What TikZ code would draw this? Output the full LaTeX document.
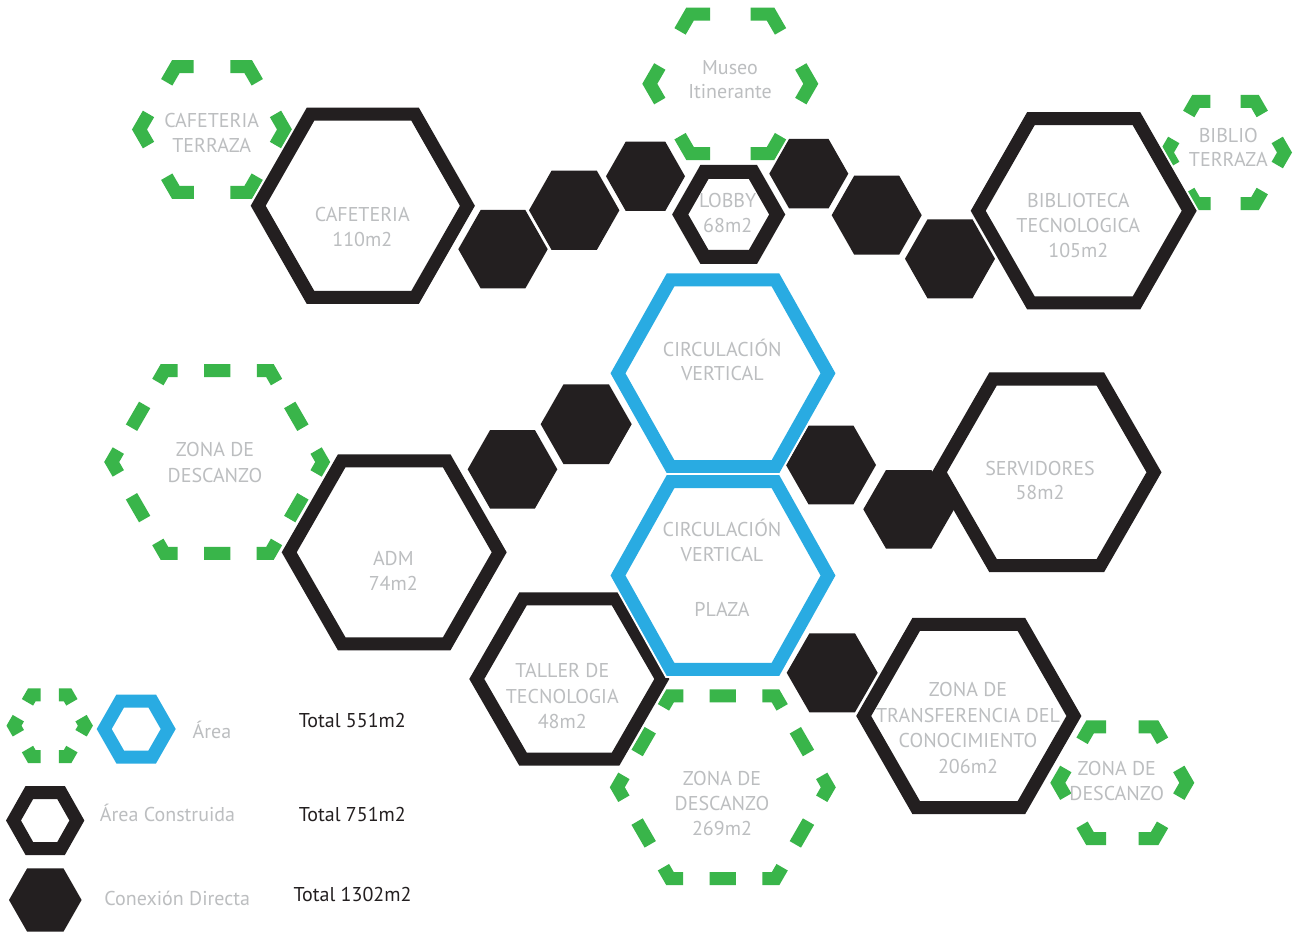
\documentclass[tikz,border=0pt]{standalone}
\usepackage{fontspec}
\setmainfont{PT Sans}
\definecolor{hexblack}{HTML}{231F20}
\definecolor{hexblue}{HTML}{29ABE2}
\definecolor{hexgreen}{HTML}{39B54A}
\definecolor{lblgray}{HTML}{BCBEC0}
% style, cx, cy, half-width a, half-height h
\newcommand{\hexdraw}[5]{%
  \draw[#1] ({#2},{#3-#5}) -- ({#2+#4/2},{#3-#5}) -- ({#2+#4},{#3}) --
    ({#2+#4/2},{#3+#5}) -- ({#2-#4/2},{#3+#5}) -- ({#2-#4},{#3}) --
    ({#2-#4/2},{#3-#5}) -- cycle;}
\newcommand{\outlinehex}[5]{%
  \hexdraw{halo}{#2}{#3}{#4}{#5}%
  \hexdraw{#1}{#2}{#3}{#4}{#5}}
\begin{document}
\begin{tikzpicture}[x=1pt,y=-1pt,
  greenhex/.style={draw=hexgreen, line width=13pt, line join=miter},
  blackhex/.style={draw=hexblack, line width=13pt, line join=miter},
  halo/.style={draw=white, line width=17pt, line join=miter},
  bluehex/.style={draw=hexblue, line width=13pt, line join=miter},
  solidhex/.style={fill=hexblack, draw=none},
  lbl/.style={text=lblgray, font=\fontsize{20}{25}\selectfont, anchor=base, inner sep=0pt},
  tot/.style={lbl, text=hexblack}]
\useasboundingbox (0,0) rectangle (1299,933);
\fill[white] (0,0) rectangle (1299,933);

% green dashed hexagons (open areas)
\hexdraw{greenhex, dash pattern=on 36pt off 36.5pt, dash phase=54.25pt}{212}{129.5}{72.5}{62.79}
\hexdraw{greenhex, dash pattern=on 40pt off 40.5pt, dash phase=60.25pt}{730.3}{83.8}{80.5}{69.71}
\hexdraw{greenhex, dash pattern=on 29pt off 30pt, dash phase=44pt}{1225.5}{152.5}{59}{51.1}
\hexdraw{greenhex, dash pattern=on 26.4pt off 26.4pt on 26.3pt off 26.4pt, dash phase=65.95pt}{217.2}{462}{105.5}{91.36}
\hexdraw{greenhex, dash pattern=on 26.4pt off 26.4pt on 26.3pt off 26.4pt, dash phase=65.95pt}{722.8}{787.3}{105.5}{91.36}
\hexdraw{greenhex, dash pattern=on 32pt off 32.5pt, dash phase=48.25pt}{1122.3}{782.8}{64.5}{55.86}
\hexdraw{greenhex, dash pattern=on 17.4pt off 18.3pt, dash phase=26.55pt}{49.7}{725.7}{35.7}{30.92}

% black outlined hexagons (built areas)
\outlinehex{blackhex}{362.8}{205.8}{104.6}{91.6}
\outlinehex{blackhex, line width=14pt}{728.7}{214.5}{48.5}{42.5}
\outlinehex{blackhex}{1083.7}{210.8}{105.5}{92.2}
\outlinehex{blackhex}{394.2}{552.3}{105}{91.5}
\outlinehex{blackhex}{1046.7}{472.3}{107.3}{93.3}
\outlinehex{blackhex}{569.3}{679}{92.5}{80.2}
\outlinehex{blackhex}{968.8}{716}{105.1}{91.7}
\outlinehex{blackhex}{45.2}{820.5}{31.7}{28}

% filled hexagons (direct connections)
\hexdraw{solidhex}{503}{249.2}{44.7}{39.2}
\hexdraw{solidhex}{574.2}{210.3}{45.2}{39.7}
\hexdraw{solidhex}{645.5}{176.3}{39.5}{34.7}
\hexdraw{solidhex}{808.8}{173.7}{39.5}{34.7}
\hexdraw{solidhex}{876.7}{215.2}{45}{39.5}
\hexdraw{solidhex}{950}{258.8}{45}{39.5}
\hexdraw{solidhex}{586.2}{424.2}{45.5}{39.8}
\hexdraw{solidhex}{512.5}{469.3}{44.8}{39.3}
\hexdraw{solidhex}{831}{465}{45}{39.3}
\hexdraw{solidhex}{908.7}{509.3}{45.4}{39.3}
\hexdraw{solidhex}{832.2}{672.8}{45.5}{39.5}
\hexdraw{solidhex}{45.3}{900}{36.3}{31.7}

% blue hexagons (area)
\outlinehex{bluehex}{723}{373.3}{105}{93.3}
\outlinehex{bluehex}{723}{575.5}{105}{93.8}
\outlinehex{bluehex}{136.2}{729}{32}{28}

% labels
\node[lbl] (cafterr1) at (211.7,127.3) {CAFETERIA};
\node[lbl] (cafterr2) at (211.7,152.7) {TERRAZA};
\node[lbl] (cafe1) at (362.3,221.3) {CAFETERIA};
\node[lbl] (cafe2) at (362.3,246.3) {110m2};
\node[lbl] (museo1) at (730,74.5) {Museo};
\node[lbl] (museo2) at (730,99) {Itinerante};
\node[lbl] (lobby1) at (727.7,208) {LOBBY};
\node[lbl] (lobby2) at (727.7,233) {68m2};
\node[lbl] (bib1) at (1078.3,207.7) {BIBLIOTECA};
\node[lbl] (bib2) at (1078.3,232.7) {TECNOLOGICA};
\node[lbl] (bib3) at (1078.3,257.7) {105m2};
\node[lbl] (bibterr1) at (1228.3,143) {BIBLIO};
\node[lbl] (bibterr2) at (1228.3,167) {TERRAZA};
\node[lbl] (circa1) at (722.3,356) {CIRCULACIÓN};
\node[lbl] (circa2) at (722.3,380.7) {VERTICAL};
\node[lbl] (circb1) at (722,536) {CIRCULACIÓN};
\node[lbl] (circb2) at (722,561.7) {VERTICAL};
\node[lbl] (circb3) at (722,616.7) {PLAZA};
\node[lbl] (zonal1) at (215,456.7) {ZONA DE};
\node[lbl] (zonal2) at (215,482.3) {DESCANZO};
\node[lbl] (adm1) at (393.3,565) {ADM};
\node[lbl] (adm2) at (393.3,590) {74m2};
\node[lbl] (serv1) at (1040,475) {SERVIDORES};
\node[lbl] (serv2) at (1040,499.3) {58m2};
\node[lbl] (taller1) at (562.3,677.3) {TALLER DE};
\node[lbl] (taller2) at (562.3,703.3) {TECNOLOGIA};
\node[lbl] (taller3) at (562.3,728.3) {48m2};
\node[lbl] (zonab1) at (722,785) {ZONA DE};
\node[lbl] (zonab2) at (722,810) {DESCANZO};
\node[lbl] (zonab3) at (722,835.7) {269m2};
\node[lbl] (transf1) at (968,696.7) {ZONA DE};
\node[lbl] (transf2) at (968,722.3) {TRANSFERENCIA DEL};
\node[lbl] (transf3) at (968,747.3) {CONOCIMIENTO};
\node[lbl] (transf4) at (968,773.3) {206m2};
\node[lbl] (zonar1) at (1116.7,775) {ZONA DE};
\node[lbl] (zonar2) at (1116.7,800) {DESCANZO};

% legend
\node[lbl] (legarea) at (212,738.3) {Área};
\node[lbl] (legcons) at (167.5,821.7) {Área Construida};
\node[lbl] (legcon) at (177.3,905.7) {Conexión Directa};
\node[tot] (tot1) at (352.3,727.3) {Total 551m2};
\node[tot] (tot2) at (352.3,821.3) {Total 751m2};
\node[tot] (tot3) at (352.5,901.7) {Total 1302m2};
\end{tikzpicture}
\end{document}
